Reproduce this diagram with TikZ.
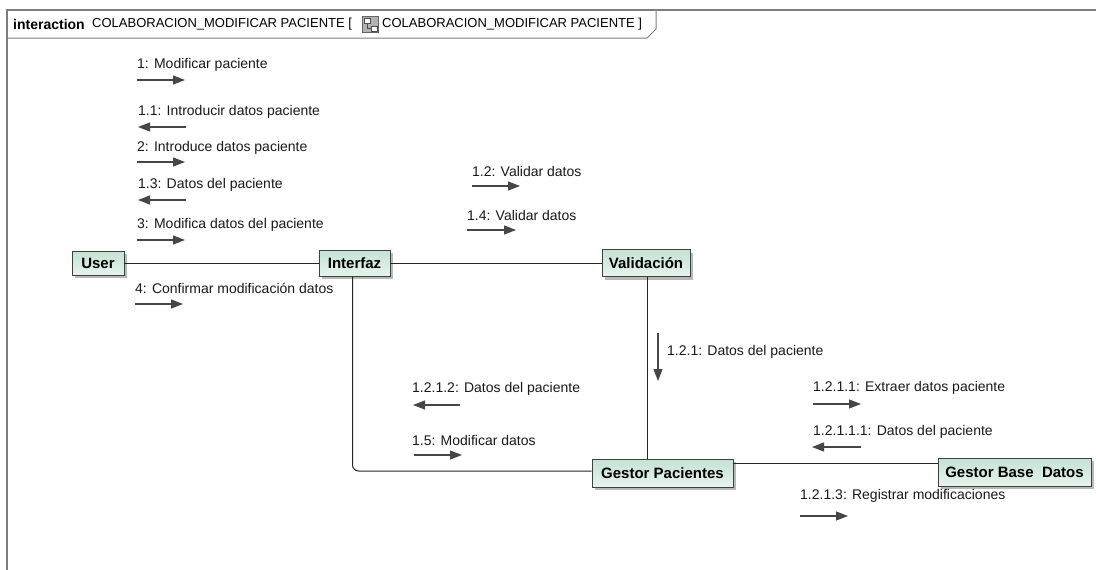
\documentclass[tikz,border=0pt]{standalone}
\usepackage{fontspec}
\setmainfont{Liberation Sans}
\usetikzlibrary{arrows.meta,shadows,calc}
\definecolor{mint}{RGB}{196,226,211}
\definecolor{mintlight}{RGB}{230,244,237}
\definecolor{framec}{RGB}{125,125,125}
\definecolor{msgc}{RGB}{70,70,70}
\begin{document}
\begin{tikzpicture}[x=1pt,y=-1pt,
 obj/.style={draw=black!75, line width=0.9pt, top color=mint, bottom color=mintlight,
   font=\fontsize{15}{18}\selectfont\bfseries, inner sep=0pt,
   drop shadow={shadow xshift=3pt,shadow yshift=-3pt,fill=black!50,opacity=0.55}},
 conn/.style={draw=black!85, line width=1pt},
 msg/.style={font=\fontsize{14}{16}\selectfont, anchor=west, inner sep=0pt, text=black!90},
 marrow/.style={draw=msgc, line width=1.1pt, -{Triangle[length=12pt,width=9pt]}},
 ttl/.style={font=\fontsize{13}{15}\selectfont, anchor=west, inner sep=0pt},
]
\useasboundingbox (0,0) rectangle (1096,570);
\fill[white] (0,0) rectangle (1096,570);

% frame
\draw[framec, line width=1.5pt] (7,570) -- (7,10) -- (1096,10);
\draw[framec, line width=1pt] (7,38) -- (647,38) -- (656,29) -- (656,10);
\node[ttl, font=\fontsize{14}{15}\selectfont\bfseries] (t0) at (13,24) {interaction};
\node[ttl] (t1) at (92,24) {COLABORACION\_MODIFICAR PACIENTE [};
\filldraw[fill=black!30, draw=black!60, line width=0.6pt] (362,16) rectangle (378,32);
\filldraw[fill=white, draw=black!70, line width=0.5pt] (364,18) rectangle (370,23);
\filldraw[fill=white, draw=black!70, line width=0.5pt] (371,26) rectangle (377,31);
\draw[black!70, line width=0.5pt] (367,23) |- (371,28);
\node[ttl] (t2) at (382,24) {COLABORACION\_MODIFICAR PACIENTE ]};

% objects
\node[obj, minimum width=52pt, minimum height=24pt] (user) at (98,263) {User};
\node[obj, minimum width=71pt, minimum height=26pt] (interfaz) at (354.5,263) {Interfaz};
\node[obj, minimum width=88pt, minimum height=27pt] (valid) at (646,263) {Validación};
\node[obj, minimum width=141pt, minimum height=28pt] (gp) at (662.5,473) {Gestor Pacientes};
\node[obj, minimum width=153pt, minimum height=28pt] (gbd) at (1014.5,472) {Gestor Base\ \ Datos};

% links
\draw[conn] (user) -- (interfaz);
\draw[conn] (interfaz) -- (valid);
\draw[conn, rounded corners=6pt] ([xshift=-2pt]interfaz.south) |- ([yshift=2pt]gp.west);
\draw[conn] ([xshift=-15pt]gp.north |- valid.south) -- ([xshift=-15pt]gp.north);
\draw[conn] (gp.east |- 0,463) -- (gbd.west |- 0,463);

% messages User - Interfaz
\node[msg] (m1) at (137,65) {1: Modificar paciente};
\coordinate (a1s) at (137,80); \coordinate (a1e) at (185,80);
\draw[marrow] (a1s) -- (a1e);
\node[msg] (m2) at (138,112) {1.1: Introducir datos paciente};
\coordinate (a2s) at (186,127); \coordinate (a2e) at (138,127);
\draw[marrow] (a2s) -- (a2e);
\node[msg] (m3) at (137,148) {2: Introduce datos paciente};
\coordinate (a3s) at (137,162); \coordinate (a3e) at (185,162);
\draw[marrow] (a3s) -- (a3e);
\node[msg] (m4) at (138,185) {1.3: Datos del paciente};
\coordinate (a4s) at (186,200); \coordinate (a4e) at (138,200);
\draw[marrow] (a4s) -- (a4e);
\node[msg] (m5) at (137,225) {3: Modifica datos del paciente};
\coordinate (a5s) at (137,240); \coordinate (a5e) at (185,240);
\draw[marrow] (a5s) -- (a5e);
\node[msg] (m6) at (135,288) {4: Confirmar modificación datos};
\coordinate (a6s) at (135,304); \coordinate (a6e) at (183,304);
\draw[marrow] (a6s) -- (a6e);

% Interfaz - Validacion
\node[msg] (m7) at (472,171) {1.2: Validar datos};
\coordinate (a7s) at (472,186); \coordinate (a7e) at (520,186);
\draw[marrow] (a7s) -- (a7e);
\node[msg] (m8) at (467,215) {1.4: Validar datos};
\coordinate (a8s) at (467,230); \coordinate (a8e) at (516,230);
\draw[marrow] (a8s) -- (a8e);

% Validacion - Gestor Pacientes
\node[msg] (m9) at (667,352) {1.2.1: Datos del paciente};
\coordinate (a9s) at (658,333); \coordinate (a9e) at (658,381);
\draw[marrow] (a9s) -- (a9e);

% Interfaz - Gestor Pacientes
\node[msg] (m10) at (412,389) {1.2.1.2: Datos del paciente};
\coordinate (a10s) at (460,405); \coordinate (a10e) at (413,405);
\draw[marrow] (a10s) -- (a10e);
\node[msg] (m11) at (412,440) {1.5: Modificar datos};
\coordinate (a11s) at (414,455); \coordinate (a11e) at (462,455);
\draw[marrow] (a11s) -- (a11e);

% Gestor Pacientes - Gestor Base Datos
\node[msg] (m12) at (813,388) {1.2.1.1: Extraer datos paciente};
\coordinate (a12s) at (813,404); \coordinate (a12e) at (861,404);
\draw[marrow] (a12s) -- (a12e);
\node[msg] (m13) at (813,432) {1.2.1.1.1: Datos del paciente};
\coordinate (a13s) at (861,447); \coordinate (a13e) at (812,447);
\draw[marrow] (a13s) -- (a13e);
\node[msg] (m14) at (800,496) {1.2.1.3: Registrar modificaciones};
\coordinate (a14s) at (800,516); \coordinate (a14e) at (848,516);
\draw[marrow] (a14s) -- (a14e);
\end{tikzpicture}
\end{document}
